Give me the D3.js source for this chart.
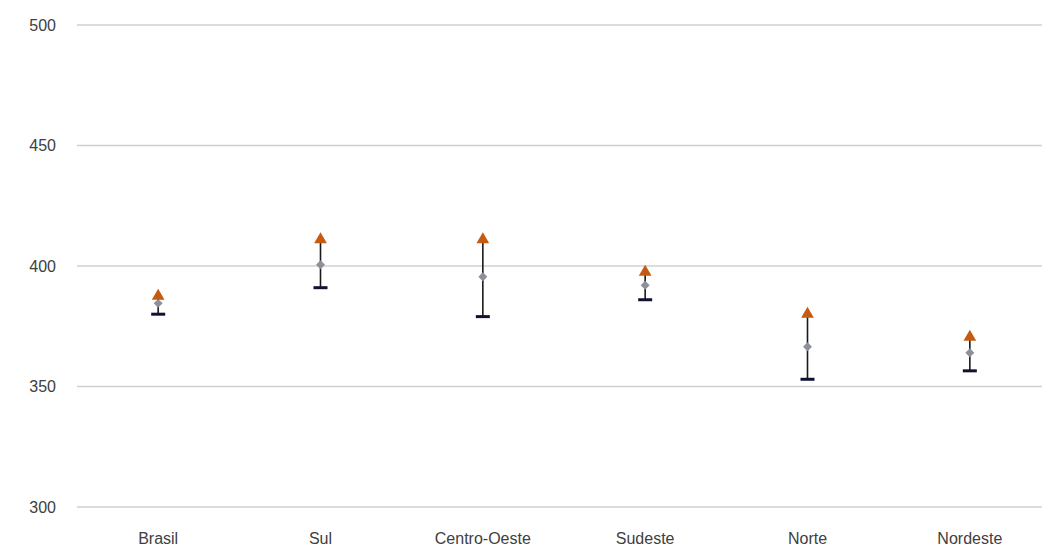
<!DOCTYPE html>
<html><head><meta charset="utf-8">
<script src="https://cdn.jsdelivr.net/npm/d3@7"></script>
<style>body{margin:0;background:#fff;}svg{display:block;font-family:"Liberation Sans",Arial,sans-serif;}</style>
</head><body>
<svg id="c" width="1049" height="549"></svg>
<script>
const categories = ["Brasil","Sul","Centro-Oeste","Sudeste","Norte","Nordeste"];
const highValues = [387.5, 411, 411, 397.5, 380, 370.5];
const midValues  = [384.5, 400.5, 395.5, 392, 366.5, 364];
const lowValues  = [380, 391, 379, 386, 353, 356.5];
const yTicks = [300, 350, 400, 450, 500];

const svg = d3.select("#c");
const x = d3.scaleBand().domain(categories).range([77, 1051]);
const y = d3.scaleLinear().domain([300, 500]).range([507, 25]);

// grid
svg.append("g").selectAll("line").data(yTicks).join("line")
  .attr("x1", 77).attr("x2", 1042)
  .attr("y1", d => y(d)).attr("y2", d => y(d))
  .attr("stroke", "#d0d0d0").attr("stroke-width", 1.3);

// y labels
svg.append("g").selectAll("text").data(yTicks).join("text")
  .attr("x", 56).attr("y", d => y(d)).attr("dy", "0.35em")
  .attr("text-anchor", "end").attr("font-size", 16).attr("fill", "#404040")
  .text(d => d);

// x labels
svg.append("g").selectAll("text").data(categories).join("text")
  .attr("x", d => x(d) + x.bandwidth()/2).attr("y", 538)
  .attr("dy", "0.35em")
  .attr("text-anchor", "middle").attr("font-size", 16).attr("fill", "#404040")
  .text(d => d);

const data = categories.map((c,i) => ({c, hi: highValues[i], mid: midValues[i], lo: lowValues[i]}));
const cx = d => x(d.c) + x.bandwidth()/2;

const g = svg.append("g");
// vertical line
g.selectAll("line.v").data(data).join("line").attr("class","v")
  .attr("x1", cx).attr("x2", cx)
  .attr("y1", d => y(d.lo)).attr("y2", d => y(d.hi))
  .attr("stroke", "#1a1a1a").attr("stroke-width", 1.6);
// low dash
g.selectAll("line.lo").data(data).join("line").attr("class","lo")
  .attr("x1", d => cx(d) - 7).attr("x2", d => cx(d) + 7)
  .attr("y1", d => y(d.lo)).attr("y2", d => y(d.lo))
  .attr("stroke", "#111133").attr("stroke-width", 3);
// mid diamond (square rotated 45°)
g.selectAll("path.mid").data(data).join("path").attr("class","mid")
  .attr("transform", d => `translate(${cx(d)},${y(d.mid)}) rotate(45)`)
  .attr("d", d3.symbol(d3.symbolSquare, 40))
  .attr("fill", "#8c9099");
// high triangle
g.selectAll("path.hi").data(data).join("path").attr("class","hi")
  .attr("transform", d => `translate(${cx(d)},${y(d.hi)})`)
  .attr("d", d3.symbol(d3.symbolTriangle, 70))
  .attr("fill", "#c55a11");
</script>
</body></html>
